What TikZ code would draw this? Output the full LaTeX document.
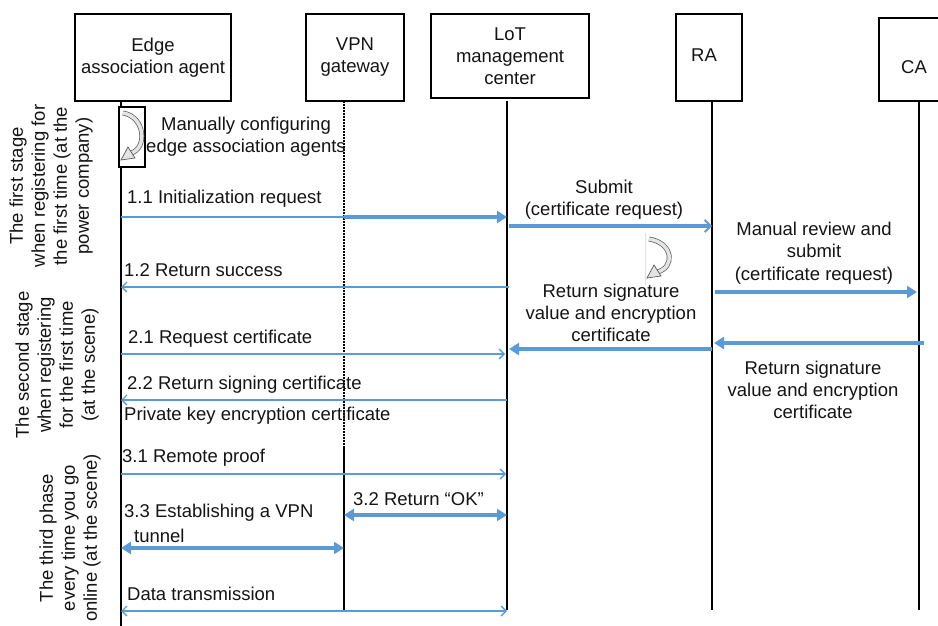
\documentclass[tikz,border=0pt]{standalone}
\usepackage{fontspec}
\setmainfont{Liberation Sans}
\usetikzlibrary{arrows.meta}
\definecolor{arrblue}{RGB}{91,155,213}
\definecolor{txt}{RGB}{20,20,20}
\tikzset{
  fnt/.style={font=\fontsize{18.5}{22}\selectfont, text=txt},
  actor/.style={draw=black, line width=1.5pt, fnt, align=center, inner sep=0pt},
  lbl/.style={fnt, inner sep=0pt, anchor=west},
  clbl/.style={fnt, inner sep=0pt, align=center},
  side/.style={fnt, inner sep=0pt, align=center, rotate=90},
  life/.style={draw=black, line width=1.4pt},
  thinarr/.style={draw=arrblue, line width=1.4pt, -{Straight Barb[length=5pt,width=10pt,line width=1.4pt]}},
  thinbi/.style={draw=arrblue, line width=1.4pt, {Straight Barb[length=5pt,width=10pt,line width=1.4pt]}-{Straight Barb[length=5pt,width=10pt,line width=1.4pt]}},
  thickopen/.style={draw=arrblue, line width=3.3pt, -{Straight Barb[length=6pt,width=12pt,line width=1.8pt]}},
  thickarr/.style={draw=arrblue, line width=3.5pt, -{Triangle[length=10pt,width=12pt]}},
  thickbi/.style={draw=arrblue, line width=3.5pt, {Triangle[length=10pt,width=12pt]}-{Triangle[length=10pt,width=12pt]}},
  curv/.style={draw=gray!70!black, line width=0.7pt, double=gray!22, double distance=3.5pt},
  curvtip/.style={draw=gray!70!black, line width=0.7pt, fill=gray!22}
}
\begin{document}
\begin{tikzpicture}[x=1pt,y=-1pt]
\useasboundingbox (0,0) rectangle (938,626);
\clip (0,0) rectangle (938,626);

% actor boxes
\node[actor, minimum width=156pt, minimum height=87pt] (edge) at (153,57.5) {Edge\\association agent};
\node[actor, minimum width=98pt, minimum height=87pt] (vpn) at (355,57.5) {VPN\\gateway};
\node[actor, minimum width=158pt, minimum height=84pt] (lot) at (510,56) {LoT\\management\\center};
\node[actor, minimum width=66pt, minimum height=87pt] (ra) at (709,57.5) {};
\node[fnt] (ratext) at (704,55) {RA};
\node[actor, minimum width=72pt, minimum height=83pt] (ca) at (915,59.5) {};
\node[fnt] (catext) at (914,67) {CA};

% lifeline coordinates
\coordinate (eT) at (121,101);  \coordinate (eB) at (121,630);
\coordinate (vT) at (344,101);  \coordinate (vM) at (344,447); \coordinate (vB) at (344,612);
\coordinate (lT) at (507,101);  \coordinate (lB) at (507,610);
\coordinate (rT) at (712,101);  \coordinate (rB) at (712,610);
\coordinate (cT) at (919,101);  \coordinate (cB) at (919,610);

\draw[life] (eT) -- (eB);
\draw[draw=black, line width=1.2pt, dash pattern=on 2pt off 1pt] (vT) -- (vM);
\draw[life] (vM) -- (vB);
\draw[life] (lT) -- (lB);
\draw[life] (rT) -- (rB);
\draw[life] (cT) -- (cB);

% self activity box with curved arrow
\node[draw=black, line width=1.5pt, fill=white, minimum width=26pt, minimum height=60pt, inner sep=0pt] (act) at (132,137) {};
\draw[curv] (123,113) .. controls (146,117) and (147,149) .. (131,153);
\draw[curvtip] (121,160) -- (128,147) -- (135,158) -- cycle;
\node[clbl] (manual) at (246,137) {Manually configuring\\edge association agents};

% curved arrow near RA
\draw[gray!25, line width=0.8pt] (645,233) -- (645,285);
\draw[curv] (649,239) .. controls (674,243) and (675,268) .. (657,272);
\draw[curvtip] (647,278) -- (654,265) -- (661,276) -- cycle;

% 1.1
\coordinate (a11) at (121,217);
\draw[draw=arrblue, line width=1.4pt] (a11) -- (vT |- a11);
\draw[thickarr] (vT |- a11) -- (lT |- a11);
\node[lbl] (t11) at (127,199) {1.1 Initialization request};

% submit
\coordinate (sub) at (509,226);
\draw[thickopen] (sub) -- (rT |- sub);
\node[clbl] (tsub) at (604,200) {Submit\\(certificate request)};

% 1.2
\coordinate (a12) at (509,287);
\draw[thinarr] (a12) -- (eT |- a12);
\node[lbl] (t12) at (124,270) {1.2 Return success};

% manual review
\coordinate (mr) at (715,292);
\draw[thickarr] (mr) -- (917,292);
\node[fnt, inner sep=0pt] (tmr1) at (814,229) {Manual review and};
\node[fnt, inner sep=0pt] (tmr2) at (814,251) {submit};
\node[fnt, inner sep=0pt] (tmr3) at (814,276) {(certificate request)};

% RA -> LoT
\coordinate (rl) at (712,349);
\draw[thickarr] (rl) -- (509,349);
\node[clbl] (trl) at (611,313) {Return signature\\value and encryption\\certificate};

% CA -> RA
\coordinate (cr) at (924,343);
\draw[thickarr] (cr) -- (714,343);
\node[clbl] (tcr) at (813,390) {Return signature\\value and encryption\\certificate};

% 2.1
\coordinate (a21) at (121,354);
\draw[thinarr] (a21) -- (505,354);
\node[lbl] (t21) at (128,339) {2.1 Request certificate};

% 2.2
\coordinate (a22) at (507,400);
\draw[thinarr] (a22) -- (eT |- a22);
\node[lbl] (t22) at (127,385) {2.2 Return signing certificate};
\node[lbl] (tpk) at (124,416) {Private key encryption certificate};

% 3.1
\coordinate (a31) at (121,474);
\draw[thinarr] (a31) -- (506,474);
\node[lbl] (t31) at (122,458) {3.1 Remote proof};

% 3.2
\coordinate (a32) at (344,515);
\draw[thickbi] (a32) -- (lT |- a32);
\node[lbl] (t32) at (353,499) {3.2 Return “OK”};

% 3.3
\coordinate (a33) at (121,548);
\draw[thickbi] (a33) -- (vT |- a33);
\node[lbl] (t33) at (124,513) {3.3 Establishing a VPN};
\node[lbl] (t33b) at (134,536) {tunnel};

% data transmission
\coordinate (dt) at (121,611);
\draw[thinbi] (dt) -- (lT |- dt);
\node[lbl] (tdt) at (127,594) {Data transmission};

% phase labels
\node[side] (p1) at (51,186) {The first stage\\when registering for\\the first time (at the\\power company)};
\node[side] (p2) at (57,365) {The second stage\\when registering\\for the first time\\(at the scene)};
\node[side] (p3) at (70,538) {The third phase\\every time you go\\online (at the scene)};
\end{tikzpicture}
\end{document}
